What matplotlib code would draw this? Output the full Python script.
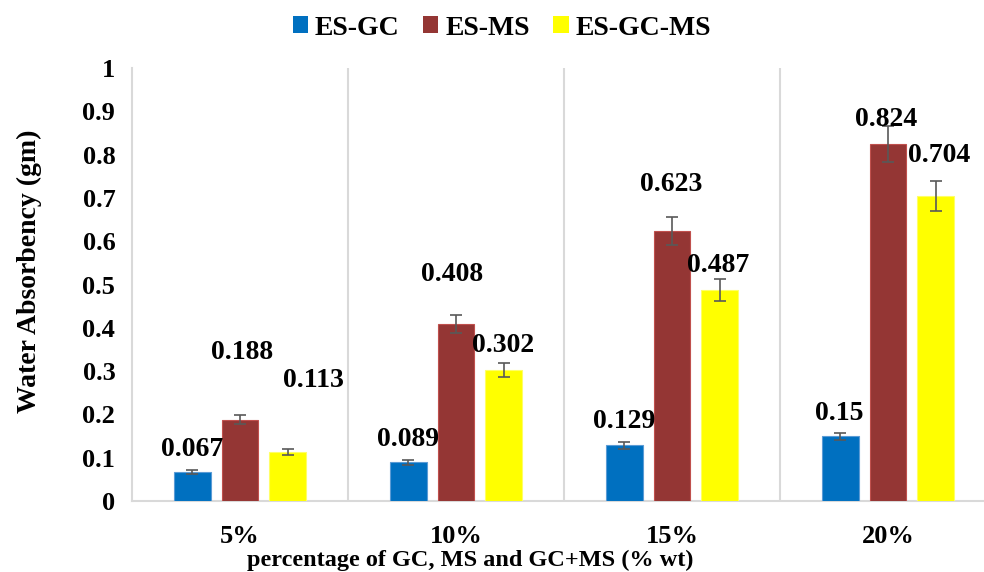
import matplotlib
matplotlib.use("Agg")
import matplotlib.pyplot as plt
from matplotlib.patches import Patch
import numpy as np

# data
categories = ['5%', '10%', '15%', '20%']
series_names = ['ES-GC', 'ES-MS', 'ES-GC-MS']
es_gc = [0.067, 0.089, 0.129, 0.15]
es_ms = [0.188, 0.408, 0.623, 0.824]
es_gc_ms = [0.113, 0.302, 0.487, 0.704]
err_gc = [0.005, 0.005, 0.008, 0.008]
err_ms = [0.010, 0.021, 0.032, 0.042]
err_gc_ms = [0.006, 0.016, 0.025, 0.035]

# label placement (dx, dy) relative to each bar top, as in the original
label_offsets = [
    [(0.0, 0.053), (0.0, 0.053), (0.0, 0.055), (-0.005, 0.053)],
    [(0.01, 0.154), (-0.02, 0.114), (-0.005, 0.107), (-0.01, 0.056)],
    [(0.116, 0.166), (-0.004, 0.057), (-0.01, 0.056), (0.014, 0.095)],
]

COLORS = ['#0070C0', '#943634', '#FFFF00']
EDGES = ['#5B9BD5', '#C0504D', '#FFFF66']
GRID = '#D9D9D9'
ERR = '#595959'

plt.rcParams['font.family'] = ['Liberation Serif', 'DejaVu Serif']
plt.rcParams['font.weight'] = 'bold'

fig = plt.figure(figsize=(9.84, 5.72), dpi=100)
ax = fig.add_axes([132 / 984, 1 - 501 / 572, 864 / 984, 433 / 572])

x = np.arange(len(categories))
offset = 0.222
width = 0.171
all_vals = [es_gc, es_ms, es_gc_ms]
all_errs = [err_gc, err_ms, err_gc_ms]

for k, (vals, errs) in enumerate(zip(all_vals, all_errs)):
    pos = x + (k - 1) * offset
    ax.bar(pos, vals, width=width, color=COLORS[k], edgecolor=EDGES[k],
           linewidth=0.8, zorder=3)
    ax.errorbar(pos, vals, yerr=errs, fmt='none', ecolor=ERR,
                elinewidth=1.2, capsize=4.5, capthick=1.2, zorder=4)
    for i, v in enumerate(vals):
        dx, dy = label_offsets[k][i]
        ax.text(pos[i] + dx, v + dy, f"{v:g}", ha='center', va='center',
                fontsize=20, fontweight='bold', color='black', zorder=5)

ax.set_xlim(-0.5, len(categories) - 0.5)
ax.set_ylim(0, 1)
ax.set_yticks(np.arange(0, 1.01, 0.1))
ax.set_yticklabels([f"{t:g}" for t in np.arange(0, 1.01, 0.1).round(1)])
ax.set_xticks(x)
ax.set_xticklabels(categories)
ax.tick_params(axis='both', length=0, labelsize=19)
ax.tick_params(axis='x', pad=17)
ax.tick_params(axis='y', pad=12)

# vertical separators between groups
for b in x[:-1] + 0.5:
    ax.axvline(b, color=GRID, linewidth=1.5, zorder=1)

for s in ['top', 'right']:
    ax.spines[s].set_visible(False)
for s in ['left', 'bottom']:
    ax.spines[s].set_color(GRID)
    ax.spines[s].set_linewidth(1.5)

ax.set_xlabel("percentage of GC, MS and GC+MS (% wt)", fontsize=17.5,
              fontweight='bold', labelpad=0)
ax.xaxis.set_label_coords((470 - 132) / 864, -49 / 433)
ax.xaxis.label.set_va('top')
ax.set_ylabel("Water Absorbency (gm)", fontsize=20, fontweight='bold')
ax.yaxis.set_label_coords(-90 / 864, (501 - 271) / 433)

handles = [Patch(facecolor=c, edgecolor='none', label=n)
           for c, n in zip(COLORS, series_names)]
fig.legend(handles=handles, loc='center', bbox_to_anchor=(0.51, 0.951),
           ncol=3, frameon=False, fontsize=20, handlelength=0.55,
           handleheight=0.55, handletextpad=0.25, columnspacing=0.85)

fig.savefig("out.png", dpi=100)
